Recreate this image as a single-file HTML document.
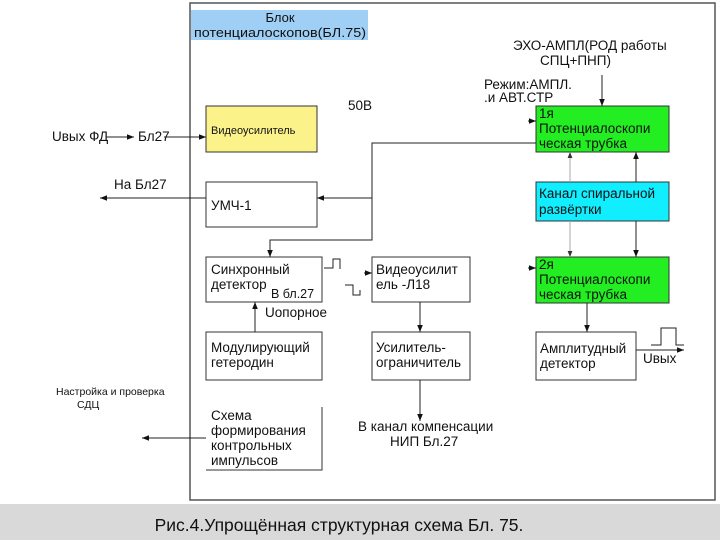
<!DOCTYPE html>
<html><head><meta charset="utf-8"><style>
html,body{margin:0;padding:0;background:#fff}
svg{display:block}
text{font-family:"Liberation Sans",sans-serif;fill:#111}
</style></head><body>
<svg width="720" height="540" viewBox="0 0 720 540" xmlns="http://www.w3.org/2000/svg">
<defs>
<marker id="a" viewBox="0 0 10 10" refX="10" refY="5" markerWidth="7" markerHeight="7" orient="auto-start-reverse"><path d="M0,1 L10,5 L0,9 z" fill="#111"/></marker>
<marker id="g" viewBox="0 0 10 10" refX="10" refY="5" markerWidth="6" markerHeight="6" orient="auto-start-reverse"><path d="M0,1 L10,5 L0,9 z" fill="#333"/></marker>
</defs>
<rect x="0" y="504" width="720" height="36" fill="#d9d9d9"/>
<rect x="190" y="3" width="525" height="497" fill="#fff" stroke="#555" stroke-width="1.5"/>
<rect x="191" y="10" width="177" height="30" fill="#9fcff5"/>
<text x="280" y="22" font-size="13" text-anchor="middle">Блок</text>
<text x="280" y="37" font-size="13" text-anchor="middle" textLength="172" lengthAdjust="spacingAndGlyphs">потенциалоскопов(БЛ.75)</text>

<g stroke="#333" stroke-width="1" fill="#fff">
<rect x="206" y="106" width="111" height="46" fill="#fbf38a"/>
<rect x="206" y="182" width="111" height="45"/>
<rect x="206" y="257" width="116" height="45"/>
<rect x="372" y="257" width="98" height="45"/>
<rect x="536" y="257" width="133" height="46" fill="#22ee22"/>
<rect x="206" y="332" width="116" height="48"/>
<rect x="372" y="332" width="98" height="48"/>
<rect x="536" y="332" width="100" height="48"/>
<rect x="536" y="106" width="133" height="46" fill="#22ee22"/>
<rect x="536" y="182" width="133" height="39" fill="#11eeff"/>
</g>
<path d="M206,470 H322 V407" fill="none" stroke="#333"/>

<g font-size="13.5">
<text x="211" y="134" font-size="11">Видеоусилитель</text>
<text x="211" y="210">УМЧ-1</text>
<text x="211" y="274">Синхронный</text>
<text x="211" y="289">детектор</text>
<text x="271" y="298" font-size="12.5">В бл.27</text>
<text x="265" y="317">Uопорное</text>
<text x="376" y="274">Видеоусилит</text>
<text x="376" y="289">ель -Л18</text>
<text x="539" y="269">2я</text>
<text x="539" y="284">Потенциалоскопи</text>
<text x="539" y="299">ческая трубка</text>
<text x="539" y="118">1я</text>
<text x="539" y="133">Потенциалоскопи</text>
<text x="539" y="148">ческая трубка</text>
<text x="539" y="198">Канал спиральной</text>
<text x="539" y="214">развёртки</text>
<text x="540" y="353">Амплитудный</text>
<text x="540" y="368">детектор</text>
<text x="211" y="352">Модулирующий</text>
<text x="211" y="367">гетеродин</text>
<text x="376" y="352">Усилитель-</text>
<text x="376" y="367">ограничитель</text>
<text x="643" y="363">Uвых</text>
<text x="211" y="420">Схема</text>
<text x="211" y="435">формирования</text>
<text x="211" y="450">контрольных</text>
<text x="211" y="465">импульсов</text>
<text x="358" y="431">В канал компенсации</text>
<text x="390" y="446">НИП  Бл.27</text>
<text x="348" y="110">50В</text>
<text x="513" y="50">ЭХО-АМПЛ(РОД работы</text>
<text x="540" y="65">СПЦ+ПНП)</text>
<text x="484" y="89">Режим:АМПЛ.</text>
<text x="484" y="102">.и АВТ.СТР</text>
<text x="52" y="141">Uвых ФД</text>
<text x="138" y="141">Бл27</text>
<text x="114" y="189">На Бл27</text>
<text x="56" y="395" font-size="10.5" font-family="Liberation Serif">Настройка и проверка</text>
<text x="77" y="408" font-size="10.5" font-family="Liberation Serif">СДЦ</text>
</g>
<text x="339" y="531" font-size="17.5" text-anchor="middle">Рис.4.Упрощённая структурная схема Бл. 75.</text>

<g stroke="#222" stroke-width="1" fill="none">
<line x1="106" y1="137" x2="134" y2="137" marker-end="url(#a)"/>
<line x1="164" y1="137" x2="206" y2="137" marker-end="url(#a)"/>
<line x1="206" y1="198" x2="100" y2="198" marker-end="url(#a)"/>
<path d="M536,143 H372 V240 H270 V257" marker-end="url(#a)"/>
<line x1="372" y1="198" x2="317" y2="198" marker-end="url(#a)"/>
<line x1="528" y1="121" x2="536" y2="121" marker-end="url(#a)"/>
<line x1="602" y1="75" x2="602" y2="106" marker-end="url(#a)"/>
<line x1="570" y1="182" x2="570" y2="152" stroke="#aaa" marker-end="url(#g)"/>
<line x1="570" y1="221" x2="570" y2="257" stroke="#aaa" marker-end="url(#g)"/>
<line x1="636" y1="182" x2="636" y2="152" marker-end="url(#a)"/>
<line x1="636" y1="221" x2="636" y2="257" marker-end="url(#a)"/>
<line x1="528" y1="268" x2="536" y2="268" marker-end="url(#a)"/>
<line x1="364" y1="273" x2="372" y2="273" marker-end="url(#a)"/>
<line x1="587" y1="303" x2="587" y2="332" marker-end="url(#a)"/>
<line x1="636" y1="350" x2="684" y2="350" marker-end="url(#a)"/>
<path d="M651,345 H661 V328 H676 V345 H684"/>
<line x1="255" y1="332" x2="255" y2="302" marker-end="url(#a)"/>
<line x1="420" y1="302" x2="420" y2="332" marker-end="url(#a)"/>
<line x1="420" y1="380" x2="420" y2="421" marker-end="url(#a)"/>
<line x1="206" y1="438" x2="142" y2="438" marker-end="url(#a)"/>
<path d="M324,268 H333 V259 H340 V269"/>
<path d="M345,285 H353 V295 H360 V290"/>
</g>
</svg>
</body></html>
